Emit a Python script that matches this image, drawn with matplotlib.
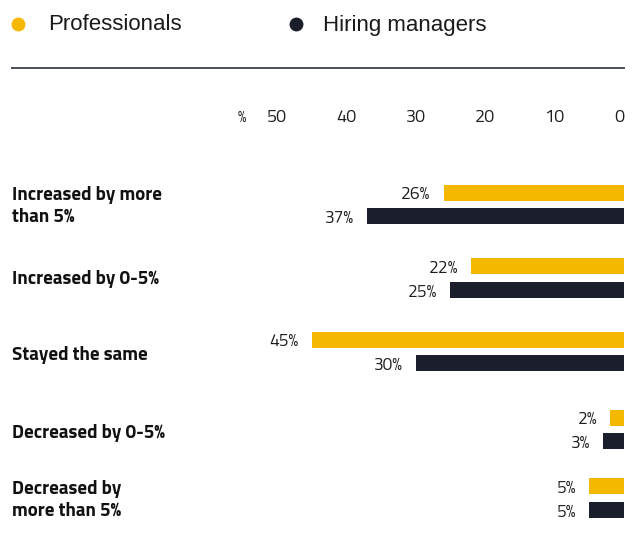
import matplotlib
matplotlib.use("Agg")
import matplotlib.pyplot as plt

categories = [
    "Increased by more\nthan 5%",
    "Increased by 0-5%",
    "Stayed the same",
    "Decreased by 0-5%",
    "Decreased by\nmore than 5%",
]
professionals = [26, 22, 45, 2, 5]
hiring_managers = [37, 25, 30, 3, 5]
series_names = ["Professionals", "Hiring managers"]
tick_values = [50, 40, 30, 20, 10, 0]

YELLOW = "#F5B800"
NAVY = "#1A1F2B"

plt.rcParams["font.family"] = ["Titillium Web", "DejaVu Sans"]

W, H = 634, 549
fig = plt.figure(figsize=(W / 100, H / 100), dpi=100)

def fx(px):
    return px / W

def fy(py):
    return 1 - py / H

# axes spans the bar area; y is in pixel rows (top = 0)
x50, x0 = 277, 624
ax = fig.add_axes([fx(x50), 0, fx(x0) - fx(x50), 1])
ax.set_xlim(50, 0)
ax.set_ylim(H, 0)
ax.axis("off")

group_centers = [204.5, 278, 351.5, 429.5, 498]
offset = 11.8
bar_h = 16

for i, c in enumerate(group_centers):
    for val, dy, col in ((professionals[i], -offset, YELLOW), (hiring_managers[i], offset, NAVY)):
        ax.barh(c + dy, val, height=bar_h, left=0, color=col, edgecolor="none")
        ax.annotate(f"{val}%", xy=(val, c + dy), xytext=(-9.5, -1.5), textcoords="offset points",
                    ha="right", va="center", fontsize=12.5, fontweight="normal",
                    color="#1e1e1e")

# value scale across the top
for t in tick_values:
    ax.text(t, 118, str(t), ha="center" if t else "right", va="center",
            fontsize=13, fontweight="normal", color="#1e1e1e")
ax.text(50 + 35 / 6.94, 118, "%", ha="center", va="center", fontsize=11,
        fontweight="normal", color="#1e1e1e")

# category labels
for label, c in zip(categories, [206, 279, 355, 433, 500]):
    fig.text(fx(12), fy(c), label, ha="left", va="center", fontsize=13.6,
             fontweight="bold", color="#111111", linespacing=1.25)

# legend row
legend_items = [(18, 48, YELLOW), (296, 323, NAVY)]
for (cx, tx, col), name in zip(legend_items, series_names):
    fig.add_artist(plt.Line2D([fx(cx)], [fy(24)], marker="o", markersize=10, color=col,
                              markeredgewidth=0, linestyle="none", transform=fig.transFigure))
    fig.text(fx(tx), fy(25), name, ha="left", va="center", fontsize=16,
             family=["Liberation Sans", "DejaVu Sans"], color="#1a1a1a")

# separator rule
fig.add_artist(plt.Line2D([fx(12), fx(624)], [fy(68), fy(68)], color="#4a4f57", lw=1.4,
                          transform=fig.transFigure))

fig.savefig("out.png", dpi=100)
